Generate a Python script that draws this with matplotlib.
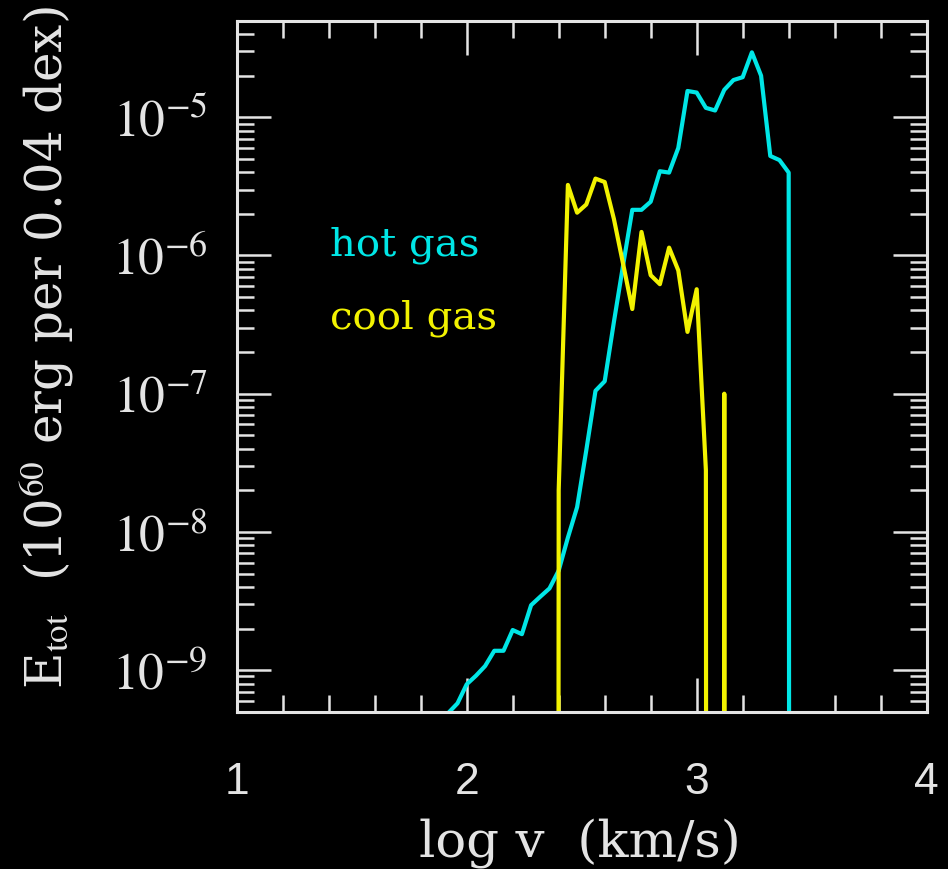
import numpy as np
import matplotlib
matplotlib.use("Agg")
import matplotlib.pyplot as plt
from matplotlib.ticker import FixedLocator, LogLocator, NullFormatter

# energy per 0.04 dex bin (0 = empty bin)
hot_logv = [1.92, 1.96, 2.00, 2.04, 2.08, 2.12, 2.16, 2.20, 2.24, 2.28,
            2.32, 2.36, 2.40, 2.44, 2.48, 2.52, 2.56, 2.60, 2.64, 2.68,
            2.72, 2.76, 2.80, 2.84, 2.88, 2.92, 2.96, 3.00, 3.04, 3.08,
            3.12, 3.16, 3.20, 3.24, 3.28, 3.32, 3.36, 3.40, 3.44]
hot_E = [4.9e-10, 5.75e-10, 7.9e-10, 9.1e-10, 1.07e-9, 1.38e-9, 1.38e-9,
         1.95e-9, 1.82e-9, 2.95e-9, 3.4e-9, 3.9e-9, 5.25e-9, 9.1e-9,
         1.51e-8, 3.9e-8, 1.05e-7, 1.23e-7, 3.3e-7, 8.5e-7, 2.14e-6,
         2.14e-6, 2.45e-6, 4.07e-6, 3.98e-6, 6.0e-6, 1.55e-5, 1.51e-5,
         1.17e-5, 1.12e-5, 1.58e-5, 1.86e-5, 1.95e-5, 2.95e-5, 2.0e-5,
         5.25e-6, 4.9e-6, 3.98e-6, 0.0]

cool_logv = [2.36, 2.40, 2.44, 2.48, 2.52, 2.56, 2.60, 2.64, 2.68, 2.72,
             2.76, 2.80, 2.84, 2.88, 2.92, 2.96, 3.00, 3.04, 3.08, 3.12,
             3.16]
cool_E = [0.0, 2.0e-8, 3.24e-6, 2.04e-6, 2.34e-6, 3.6e-6, 3.4e-6, 1.84e-6,
          8.7e-7, 4.1e-7, 1.48e-6, 7.2e-7, 6.2e-7, 1.14e-6, 7.8e-7, 2.8e-7,
          5.7e-7, 2.8e-8, 0.0, 1.0e-7, 0.0]

y_ticks = [1e-9, 1e-8, 1e-7, 1e-6, 1e-5]
y_ticklabels = [r"$10^{-9}$", r"$10^{-8}$", r"$10^{-7}$", r"$10^{-6}$", r"$10^{-5}$"]
x_ticks = [1, 2, 3, 4]

HOT = "#00e6e6"
COOL = "#f2f200"
FG = "#e4e4e4"
E_FLOOR = 1e-100  # empty bins drop straight off the bottom

plt.rcParams["font.family"] = ["DejaVu Serif"]
plt.rcParams["mathtext.fontset"] = "stix"

fig = plt.figure(figsize=(9.48, 8.69), dpi=100, facecolor="black")
ax = fig.add_axes([0.2497, 0.1810, 0.7278, 0.7952], facecolor="black")

ax.plot(hot_logv, np.maximum(hot_E, E_FLOOR), color=HOT, lw=3.0,
        solid_joinstyle="round")
ax.plot(cool_logv, np.maximum(cool_E, E_FLOOR), color=COOL, lw=3.0,
        solid_joinstyle="round")

ax.set_yscale("log")
ax.set_xlim(1, 4)
ax.set_ylim(5e-10, 5e-5)

for s in ax.spines.values():
    s.set_color(FG)
    s.set_linewidth(2.2)

ax.xaxis.set_major_locator(FixedLocator(x_ticks))
ax.xaxis.set_minor_locator(FixedLocator(np.arange(1, 4.01, 0.2)))
ax.yaxis.set_major_locator(FixedLocator(y_ticks))
ax.yaxis.set_minor_locator(LogLocator(base=10, subs=np.arange(2, 10), numticks=20))
ax.yaxis.set_minor_formatter(NullFormatter())
ax.set_yticklabels(y_ticklabels)
ax.set_xticklabels([str(t) for t in x_ticks], family="Liberation Sans")

ax.tick_params(which="both", direction="in", top=True, right=True,
               color=FG, width=1.8, labelcolor=FG)
ax.tick_params(which="major", length=24.5)
ax.tick_params(which="minor", length=12)
ax.tick_params(axis="y", which="major", labelsize=37, pad=21)
ax.tick_params(axis="x", which="major", labelsize=32, pad=36)

ax.text(1.406, 1.0e-6, "hot gas", color=HOT, fontsize=29,
        ha="left", va="baseline")
ax.text(1.406, 2.96e-7, "cool gas", color=COOL, fontsize=29,
        ha="left", va="baseline")

fig.text(0.612, 1 - 857 / 869, "log v  (km/s)", color=FG, fontsize=37,
         ha="center", va="baseline")
fig.text(47 / 948, 0.600, r"E$_{\rm tot}$  (10$^{60}$ erg per 0.04 dex)",
         color=FG, fontsize=36, rotation=90, ha="center", va="center")

fig.savefig("out.png", dpi=100, facecolor="black")
